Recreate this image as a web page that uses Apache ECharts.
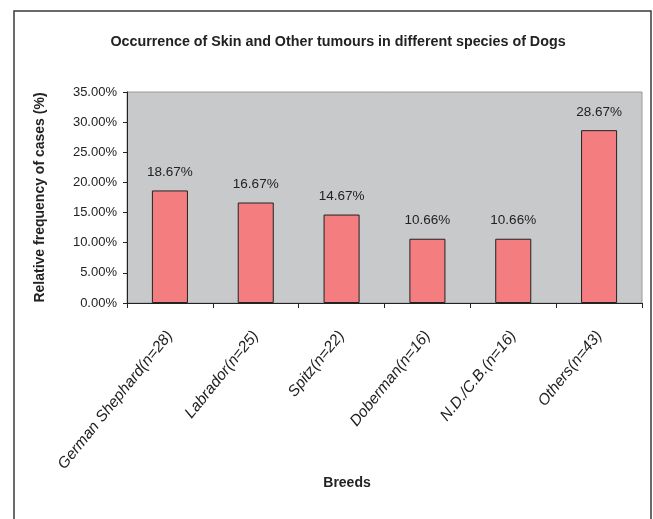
<!DOCTYPE html>
<html>
<head>
<meta charset="utf-8">
<script src="https://cdn.jsdelivr.net/npm/echarts@6/dist/echarts.min.js"></script>
<style>
  html, body { margin: 0; padding: 0; background: #ffffff; }
  #chart { width: 653px; height: 519px; }
</style>
</head>
<body>
<div id="chart"></div>
<script>
// Breeds and their relative frequency of tumour cases (%)
const breeds = [
  'German Shephard(n=28)',
  'Labrador(n=25)',
  'Spitz(n=22)',
  'Doberman(n=16)',
  'N.D./C.B.(n=16)',
  'Others(n=43)'
];
const frequency = [18.67, 16.67, 14.67, 10.66, 10.66, 28.67];

const yMin = 0;
const yMax = 35;
const yStep = 5;

const chart = echarts.init(document.getElementById('chart'), null, { renderer: 'canvas' });

chart.setOption({
  animation: false,
  backgroundColor: '#ffffff',
  title: {
    text: 'Occurrence of Skin and Other tumours in different species of Dogs',
    left: 333,
    top: 30,
    textAlign: 'center',
    textStyle: {
      fontFamily: 'Liberation Sans',
      fontWeight: 'bold',
      fontSize: 14.3,
      color: '#222222'
    }
  },
  graphic: [
    {
      type: 'rect',
      shape: { x: 14, y: 11, width: 637, height: 530 },
      style: { fill: 'none', stroke: '#3a3a3a', lineWidth: 1.5 },
      silent: true,
      z: -1
    },
    {
      type: 'text',
      x: 347,
      y: 483,
      style: {
        text: 'Breeds',
        fontFamily: 'Liberation Sans',
        fontWeight: 'bold',
        fontSize: 14,
        fill: '#222222',
        align: 'center',
        verticalAlign: 'middle'
      }
    }
  ],
  grid: {
    left: 127,
    right: 11,
    top: 92,
    bottom: 216,
    show: true,
    backgroundColor: '#c8c9cb',
    borderColor: '#9a9a9a',
    borderWidth: 1
  },
  xAxis: {
    type: 'category',
    data: breeds,
    boundaryGap: true,
    axisLine: { show: true, lineStyle: { color: '#222222', width: 1 } },
    axisTick: { show: true, length: 5, lineStyle: { color: '#222222' } },
    axisLabel: {
      rotate: 51,
      margin: 30,
      interval: 0,
      fontFamily: 'Liberation Sans',
      fontStyle: 'italic',
      fontSize: 15.5,
      color: '#222222'
    }
  },
  yAxis: {
    type: 'value',
    min: yMin,
    max: yMax,
    interval: yStep,
    name: 'Relative frequency of cases (%)',
    nameLocation: 'middle',
    nameGap: 80,
    nameTextStyle: {
      fontFamily: 'Liberation Sans',
      fontWeight: 'bold',
      fontSize: 14,
      color: '#222222'
    },
    splitLine: { show: false },
    axisLine: { show: true, lineStyle: { color: '#222222', width: 1 } },
    axisTick: { show: true, length: 4, lineStyle: { color: '#222222' } },
    axisLabel: {
      margin: 10,
      fontFamily: 'Liberation Sans',
      fontSize: 13,
      color: '#222222',
      formatter: v => v.toFixed(2) + '%'
    }
  },
  series: [
    {
      type: 'bar',
      data: frequency,
      barWidth: '42%',
      itemStyle: {
        color: '#f37d7f',
        borderColor: '#222222',
        borderWidth: 1
      },
      label: {
        show: true,
        position: 'top',
        distance: 11,
        fontFamily: 'Liberation Sans',
        fontSize: 13.5,
        color: '#222222',
        formatter: p => p.value.toFixed(2) + '%'
      }
    }
  ]
});
</script>
</body>
</html>
